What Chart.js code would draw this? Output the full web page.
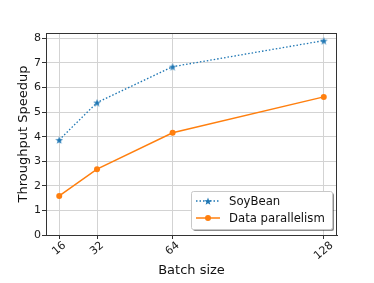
<!DOCTYPE html>
<html>
<head>
<meta charset="utf-8">
<style>
  html, body { margin: 0; padding: 0; background: #fff; }
</style>
<script src="https://cdn.jsdelivr.net/npm/chart.js@4.4.1/dist/chart.umd.min.js"></script>
</head>
<body>
<canvas id="myChart" width="374" height="283"></canvas>
<script>
const batchSizes = [16, 32, 64, 128];
const soybean = [3.87, 5.39, 6.85, 7.91];
const dataParallel = [1.59, 2.68, 4.16, 5.62];
const yTicks = [0, 1, 2, 3, 4, 5, 6, 7, 8];
const seriesNames = ['SoyBean', 'Data parallelism'];

const BLUE = '#1f77b4';
const ORANGE = '#ff7f0e';
const FONT = '"DejaVu Sans", sans-serif';

// filled 5-point star, like matplotlib's '*' marker
function makeStar(size, color) {
  const c = document.createElement('canvas');
  c.width = size; c.height = size;
  const g = c.getContext('2d');
  const r = size / 2, ri = r * 0.42;
  g.beginPath();
  for (let i = 0; i < 10; i++) {
    const rad = i % 2 === 0 ? r : ri;
    const a = -Math.PI / 2 + i * Math.PI / 5;
    const px = r + rad * Math.cos(a), py = r + 0.6 + rad * Math.sin(a);
    if (i === 0) g.moveTo(px, py); else g.lineTo(px, py);
  }
  g.closePath();
  g.fillStyle = color;
  g.fill();
  return c;
}
const star = makeStar(8, BLUE);

const frameAndLabels = {
  id: 'frameAndLabels',
  afterDatasetsDraw(chart) {
    const ctx = chart.ctx;
    const a = chart.chartArea;
    const xs = chart.scales.x;
    ctx.save();
    // axes frame (top and right spines)
    ctx.strokeStyle = '#333';
    ctx.lineWidth = 1;
    ctx.strokeRect(a.left + 0.5, a.top + 0.5, a.right - a.left - 1, a.bottom - a.top);

    // rotated x tick labels, centered under the ticks
    ctx.fillStyle = '#1a1a1a';
    ctx.font = '11px ' + FONT;
    ctx.textAlign = 'center';
    ctx.textBaseline = 'middle';
    const th = 40 * Math.PI / 180;
    batchSizes.forEach(v => {
      const txt = String(v);
      const w = ctx.measureText(txt).width;
      const bh = w * Math.sin(th) + 8 * Math.cos(th);
      const cx = xs.getPixelForValue(v);
      const cy = a.bottom + 6 + bh / 2;
      ctx.save();
      ctx.translate(cx, cy);
      ctx.rotate(-th);
      ctx.fillText(txt, 0, 0);
      ctx.restore();
    });

    // legend box with shadow, lower right
    const lx = a.right - 146, ly = a.bottom - 44, lw = 141, lh = 38;
    ctx.fillStyle = 'rgba(0,0,0,0.45)';
    ctx.beginPath();
    ctx.roundRect(lx + 2, ly + 2, lw, lh, 2);
    ctx.fill();
    ctx.fillStyle = '#fff';
    ctx.strokeStyle = '#c8c8c8';
    ctx.beginPath();
    ctx.roundRect(lx + 0.5, ly + 0.5, lw, lh, 2);
    ctx.fill();
    ctx.stroke();

    const rows = [ly + 10, ly + 27];
    const sx0 = lx + 5, sx1 = lx + 29, smid = (sx0 + sx1) / 2;
    // SoyBean sample
    ctx.strokeStyle = BLUE;
    ctx.lineWidth = 1.3;
    ctx.setLineDash([1.5, 2]);
    ctx.beginPath();
    ctx.moveTo(sx0, rows[0]); ctx.lineTo(sx1, rows[0]);
    ctx.stroke();
    ctx.setLineDash([]);
    ctx.drawImage(star, smid - 4, rows[0] - 4);
    // Data parallelism sample
    ctx.strokeStyle = ORANGE;
    ctx.lineWidth = 1.5;
    ctx.beginPath();
    ctx.moveTo(sx0, rows[1]); ctx.lineTo(sx1, rows[1]);
    ctx.stroke();
    ctx.fillStyle = ORANGE;
    ctx.beginPath();
    ctx.arc(smid, rows[1], 3, 0, Math.PI * 2);
    ctx.fill();

    ctx.fillStyle = '#111';
    ctx.font = '11.7px ' + FONT;
    ctx.textAlign = 'left';
    ctx.textBaseline = 'middle';
    seriesNames.forEach((n, i) => ctx.fillText(n, lx + 38, rows[i] + 0.5));
    ctx.restore();
  }
};

const ctx = document.getElementById('myChart').getContext('2d');
new Chart(ctx, {
  type: 'line',
  data: {
    datasets: [
      {
        label: seriesNames[0],
        data: batchSizes.map((b, i) => ({ x: b, y: soybean[i] })),
        borderColor: BLUE,
        backgroundColor: BLUE,
        borderWidth: 1.3,
        borderDash: [1.5, 2],
        pointStyle: star,
        pointRadius: 4,
        tension: 0,
      },
      {
        label: seriesNames[1],
        data: batchSizes.map((b, i) => ({ x: b, y: dataParallel[i] })),
        borderColor: ORANGE,
        backgroundColor: ORANGE,
        borderWidth: 1.5,
        pointStyle: 'circle',
        pointRadius: 3,
        pointBorderWidth: 0,
        tension: 0,
      },
    ],
  },
  options: {
    responsive: false,
    animation: false,
    layout: { padding: { left: 0, top: 33, right: 37, bottom: 0 } },
    plugins: { legend: { display: false }, tooltip: { enabled: false } },
    scales: {
      x: {
        type: 'linear',
        min: 10.4,
        max: 133.6,
        afterBuildTicks: s => { s.ticks = batchSizes.map(v => ({ value: v })); },
        afterFit: s => { s.height = 48; },
        ticks: { color: 'rgba(0,0,0,0)', maxRotation: 0, minRotation: 0, font: { size: 11, family: FONT } },
        grid: { color: '#d3d3d3', lineWidth: 1, tickLength: 4, tickColor: '#333' },
        border: { display: true, color: '#333', width: 1 },
        title: { display: true, text: 'Batch size', color: '#111', font: { size: 13, family: FONT }, padding: { top: 0, bottom: 5 } },
      },
      y: {
        min: 0,
        max: 8.22,
        afterBuildTicks: s => { s.ticks = yTicks.map(v => ({ value: v })); },
        afterFit: s => { s.width = 46; },
        ticks: { color: '#1a1a1a', padding: 1, font: { size: 11, family: FONT } },
        grid: { color: '#d3d3d3', lineWidth: 1, tickLength: 4, tickColor: '#333' },
        border: { display: true, color: '#333', width: 1 },
        title: { display: true, text: 'Throughput Speedup', color: '#111', font: { size: 13, family: FONT }, padding: { top: 16, bottom: 0 } },
      },
    },
  },
  plugins: [frameAndLabels],
});
</script>
</body>
</html>
